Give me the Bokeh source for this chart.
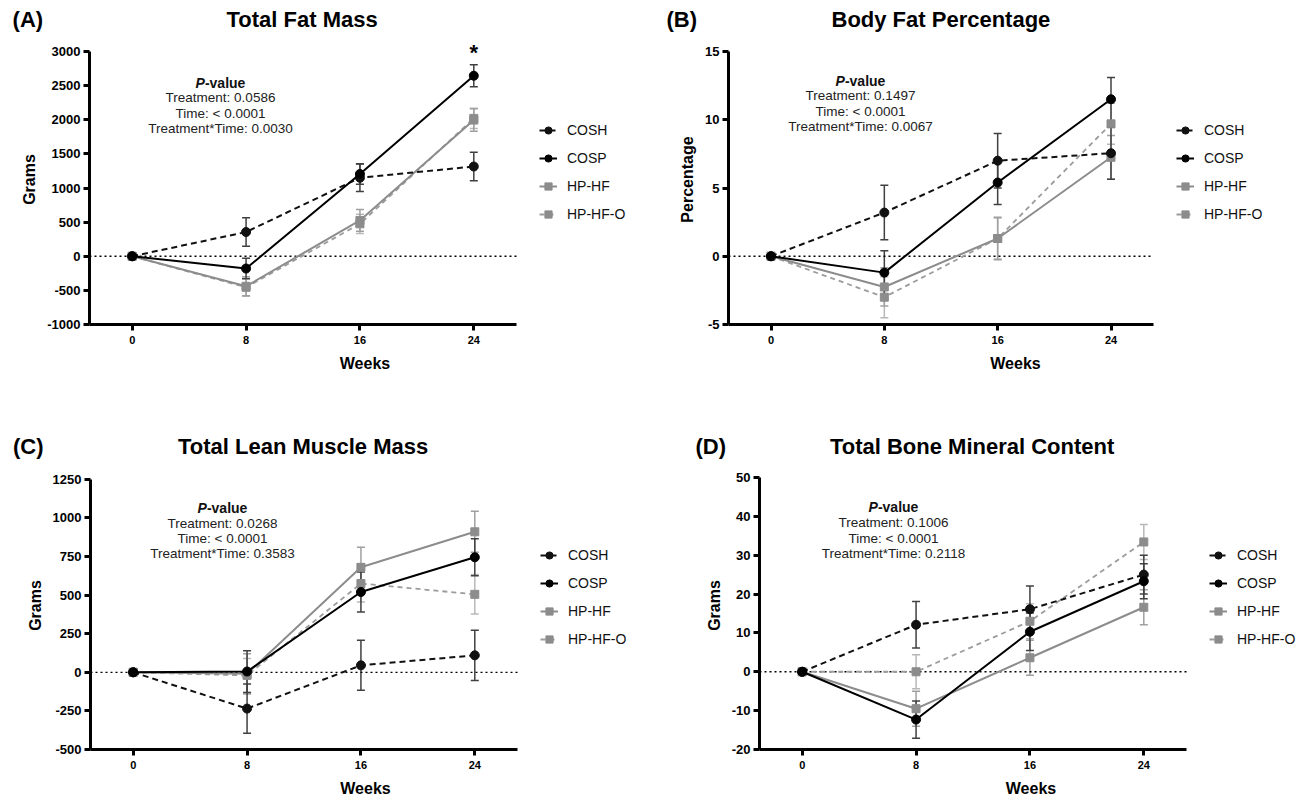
from bokeh.plotting import figure
from bokeh.models import (Range1d, Whisker, ColumnDataSource, Legend, LegendItem,
                          Label, FixedTicker, TeeHead, Title)
from bokeh.layouts import column, row
from bokeh.embed import file_html
from bokeh.resources import INLINE

FONT = "Liberation Sans"

# ---------------- data ----------------
weeks = [0, 8, 16, 24]
groups = ["COSH", "COSP", "HP-HF", "HP-HF-O"]

# (A) Total Fat Mass (g)
fat_cosh = [0, 355, 1150, 1315]
fat_cosh_err = [0, 210, 200, 210]
fat_cosp = [0, -180, 1205, 2645]
fat_cosp_err = [0, 150, 150, 160]
fat_hphf = [0, -440, 525, 1995]
fat_hphf_err = [0, 140, 160, 165]
fat_hphfo = [0, -455, 475, 2020]
fat_hphfo_err = [0, 130, 140, 150]

# (B) Body Fat Percentage (%)
pct_cosh = [0, 3.2, 7.0, 7.55]
pct_cosh_err = [0, 2.0, 2.0, 1.9]
pct_cosp = [0, -1.2, 5.4, 11.5]
pct_cosp_err = [0, 1.6, 1.6, 1.6]
pct_hphf = [0, -2.25, 1.3, 7.25]
pct_hphf_err = [0, 1.4, 1.55, 1.6]
pct_hphfo = [0, -3.0, 1.3, 9.7]
pct_hphfo_err = [0, 1.5, 1.5, 1.5]

# (C) Total Lean Muscle Mass (g)
lean_cosh = [0, -235, 45, 110]
lean_cosh_err = [0, 160, 162, 163]
lean_cosp = [0, 5, 520, 745]
lean_cosp_err = [0, 135, 130, 120]
lean_hphf = [0, -10, 680, 910]
lean_hphf_err = [0, 130, 130, 133]
lean_hphfo = [0, -20, 575, 505]
lean_hphfo_err = [0, 110, 120, 128]

# (D) Total Bone Mineral Content (g)
bmc_cosh = [0, 12.1, 16.1, 25.0]
bmc_cosh_err = [0, 6.0, 6.0, 5.0]
bmc_cosp = [0, -12.3, 10.3, 23.3]
bmc_cosp_err = [0, 4.8, 4.8, 4.5]
bmc_hphf = [0, -9.5, 3.6, 16.6]
bmc_hphf_err = [0, 4.5, 4.5, 4.5]
bmc_hphfo = [0, 0.0, 13.0, 33.4]
bmc_hphfo_err = [0, 4.4, 4.5, 4.5]

ticks_a = [-1000, -500, 0, 500, 1000, 1500, 2000, 2500, 3000]
ticks_b = [-5, 0, 5, 10, 15]
ticks_c = [-500, -250, 0, 250, 500, 750, 1000, 1250]
ticks_d = [-20, -10, 0, 10, 20, 30, 40, 50]

pvals_a = ["Treatment: 0.0586", "Time: < 0.0001", "Treatment*Time: 0.0030"]
pvals_b = ["Treatment: 0.1497", "Time: < 0.0001", "Treatment*Time: 0.0067"]
pvals_c = ["Treatment: 0.0268", "Time: < 0.0001", "Treatment*Time: 0.3583"]
pvals_d = ["Treatment: 0.1006", "Time: < 0.0001", "Treatment*Time: 0.2118"]

# ---------------- styles ----------------
STY = {
    "COSH": dict(color="#111111", dash="6 4", marker="circle", err="#404040", lw=2.0),
    "COSP": dict(color="#000000", dash="solid", marker="circle", err="#404040", lw=2.0),
    "HP-HF": dict(color="#8c8c8c", dash="solid", marker="square", err="#a0a0a0", lw=2.0),
    "HP-HF-O": dict(color="#9c9c9c", dash="5 4", marker="square", err="#b8b8b8", lw=1.8),
}

# Arial/Liberation Sans Bold advance widths (em) for title layout
BW = {" ": .278, "(": .333, ")": .333, "A": .722, "B": .722, "C": .722, "D": .722,
      "T": .611, "o": .611, "t": .333, "a": .556, "l": .278, "F": .611, "M": .833,
      "s": .556, "d": .611, "y": .556, "P": .667, "e": .556, "r": .389, "c": .556,
      "n": .611, "g": .611, "L": .611, "u": .611, "i": .278}


def tw(s, size=22):
    return sum(BW.get(ch, .6) for ch in s) * size


def make_panel(geom, letter, title, ylabel, series, ticks, pvals, pv_pos, letter_x,
               title_base, star=None):
    # geom: figure origin (page px), size, axis left/top (page px), axis size
    ox, oy, w, h, fl, ft, fw, fh = geom
    x0, x1 = -3, 27
    y0, y1 = ticks[0], ticks[-1]
    fwt = w - (fl - ox)                       # frame runs to the figure's right edge
    x1t = x0 + (x1 - x0) * fwt / fw
    s_off = 6
    ftop = round(title_base + 4.7 + s_off / 2)  # frame top sits just under the title

    def X(px):
        return x0 + (px - fl) / fw * (x1 - x0)

    def Y(py):
        return y1 - (py - ft) / fh * (y1 - y0)

    p = figure(width=w, height=h, x_range=Range1d(x0, x1t), y_range=Range1d(y0, Y(ftop)),
               output_backend="svg", toolbar_location=None,
               min_border_left=fl - ox, min_border_top=ftop - oy,
               min_border_right=0, min_border_bottom=h - (ft - oy) - fh)
    p.background_fill_color = "white"
    p.border_fill_color = "white"
    p.outline_line_color = None
    p.xgrid.visible = False
    p.ygrid.visible = False

    for ax in (p.xaxis[0], p.yaxis[0]):
        ax.axis_line_width = 3
        ax.axis_line_color = "black"
        ax.major_tick_line_width = 3
        ax.major_tick_out = 6
        ax.major_tick_in = 0
        ax.minor_tick_out = 0
        ax.minor_tick_in = 0
        ax.major_label_text_font = FONT
        ax.major_label_text_font_style = "bold"
        ax.major_label_text_color = "black"
        ax.axis_label_text_font = FONT
        ax.axis_label_text_font_style = "bold"
        ax.axis_label_text_font_size = "16px"
        ax.axis_label_text_color = "black"
    p.xaxis.bounds = (x0, x1)
    p.yaxis.bounds = (y0, y1)
    p.xaxis.ticker = FixedTicker(ticks=weeks)
    p.yaxis.ticker = FixedTicker(ticks=ticks)
    p.yaxis.major_label_overrides = {t: str(t) for t in ticks}
    p.xaxis.major_label_text_font_size = "11px"
    p.yaxis.major_label_text_font_size = "13px"
    p.xaxis.major_label_standoff = 5
    p.yaxis.major_label_standoff = 3
    p.xaxis.axis_label = "Weeks"
    p.yaxis.axis_label = ylabel
    p.xaxis.axis_label_standoff = 8
    p.yaxis.axis_label_standoff = 6

    # dotted zero reference line across the axis extent
    p.line([x0, x1], [0, 0], line_color="black", line_dash="2 3", line_width=1.3)

    rends = {}
    for g in ["HP-HF-O", "HP-HF", "COSH", "COSP"]:
        vals, errs = series[g]
        s = STY[g]
        xs = [wk for wk, e in zip(weeks, errs) if e > 0]
        up = [v + e for v, e in zip(vals, errs) if e > 0]
        lo = [v - e for v, e in zip(vals, errs) if e > 0]
        esrc = ColumnDataSource(dict(x=xs, upper=up, lower=lo))
        wh = Whisker(base="x", upper="upper", lower="lower", source=esrc,
                     line_color=s["err"], line_width=1.5,
                     upper_head=TeeHead(size=8, line_color=s["err"], line_width=1.5),
                     lower_head=TeeHead(size=8, line_color=s["err"], line_width=1.5))
        p.add_layout(wh)
        src = ColumnDataSource(dict(x=weeks, y=vals))
        lr = p.line("x", "y", source=src, line_color=s["color"], line_width=s["lw"],
                    line_dash=s["dash"])
        mcol = s["color"] if g != "HP-HF-O" else "#8c8c8c"
        mr = p.scatter("x", "y", source=src, marker=s["marker"],
                       size=9 if s["marker"] == "circle" else 8,
                       fill_color=mcol, line_color=mcol)
        rends[g] = [lr, mr]

    legend = Legend(items=[LegendItem(label=g, renderers=rends[g]) for g in groups],
                    location=(fw + 23, 100), orientation="vertical",
                    label_text_font=FONT, label_text_font_size="14px",
                    label_text_color="#111111",
                    glyph_width=18, glyph_height=20, label_height=20,
                    label_standoff=10, spacing=8, padding=0, margin=0,
                    border_line_alpha=0, background_fill_alpha=0)
    p.add_layout(legend)

    # panel letter + title on one line (title centred over the axis)
    nb = BW[" "] * 22
    tleft = fl + fw / 2 - tw(title) / 2
    n = max(1, round((tleft - letter_x - tw(letter)) / nb))
    lx = tleft - n * nb - tw(letter)
    p.title = Title(text=letter + "\u00a0" * n + title, align="left", offset=lx - fl,
                    vertical_align="bottom",
                    text_font=FONT, text_font_style="bold", text_font_size="22px",
                    text_color="black", standoff=s_off)

    # P-value block
    cx, cy = pv_pos
    pw = 49.8
    p.add_layout(Label(x=X(cx), y=Y(cy), x_offset=-pw / 2, text="P",
                       text_font=FONT, text_font_style="bold italic", text_font_size="14px",
                       text_align="left", text_baseline="middle", text_color="#111111"))
    p.add_layout(Label(x=X(cx), y=Y(cy), x_offset=-pw / 2 + 9.3, text="-value",
                       text_font=FONT, text_font_style="bold", text_font_size="14px",
                       text_align="left", text_baseline="middle", text_color="#111111"))
    for i, t in enumerate(pvals):
        p.add_layout(Label(x=X(cx), y=Y(cy + 15.4 * (i + 1)), text=t,
                           text_font=FONT, text_font_size="13.5px",
                           text_align="center", text_baseline="middle", text_color="#222222"))
    if star is not None:
        p.add_layout(Label(x=star[0], y=Y(star[1]), text="*",
                           text_font=FONT, text_font_style="bold", text_font_size="22px",
                           text_align="center", text_baseline="middle", text_color="black"))
    return p


series_a = {"COSH": (fat_cosh, fat_cosh_err), "COSP": (fat_cosp, fat_cosp_err),
            "HP-HF": (fat_hphf, fat_hphf_err), "HP-HF-O": (fat_hphfo, fat_hphfo_err)}
series_b = {"COSH": (pct_cosh, pct_cosh_err), "COSP": (pct_cosp, pct_cosp_err),
            "HP-HF": (pct_hphf, pct_hphf_err), "HP-HF-O": (pct_hphfo, pct_hphfo_err)}
series_c = {"COSH": (lean_cosh, lean_cosh_err), "COSP": (lean_cosp, lean_cosp_err),
            "HP-HF": (lean_hphf, lean_hphf_err), "HP-HF-O": (lean_hphfo, lean_hphfo_err)}
series_d = {"COSH": (bmc_cosh, bmc_cosh_err), "COSP": (bmc_cosp, bmc_cosp_err),
            "HP-HF": (bmc_hphf, bmc_hphf_err), "HP-HF-O": (bmc_hphfo, bmc_hphfo_err)}

# geometry: origin x, origin y, width, height, axis left, axis top, axis w, axis h (page px)
gA = (0, 0, 640, 400, 89, 51, 427, 273)
gB = (640, 0, 662, 400, 728, 51, 425, 273)
gC = (0, 400, 640, 402, 90, 479, 427, 273)
gD = (640, 400, 662, 402, 759, 476, 427, 273)

pA = make_panel(gA, "(A)", "Total Fat Mass", "Grams", series_a, ticks_a, pvals_a, (220, 82), 10, 26, star=(24, 52))
pB = make_panel(gB, "(B)", "Body Fat Percentage", "Percentage", series_b, ticks_b, pvals_b, (860, 80), 667, 26)
pC = make_panel(gC, "(C)", "Total Lean Muscle Mass", "Grams", series_c, ticks_c, pvals_c, (222, 508), 15, 453)
pD = make_panel(gD, "(D)", "Total Bone Mineral Content", "Grams", series_d, ticks_d, pvals_d, (893, 506), 693, 452)

layout = column(row(pA, pB, spacing=0), row(pC, pD, spacing=0), spacing=0)
open("out.html", "w").write(file_html(layout, INLINE))
